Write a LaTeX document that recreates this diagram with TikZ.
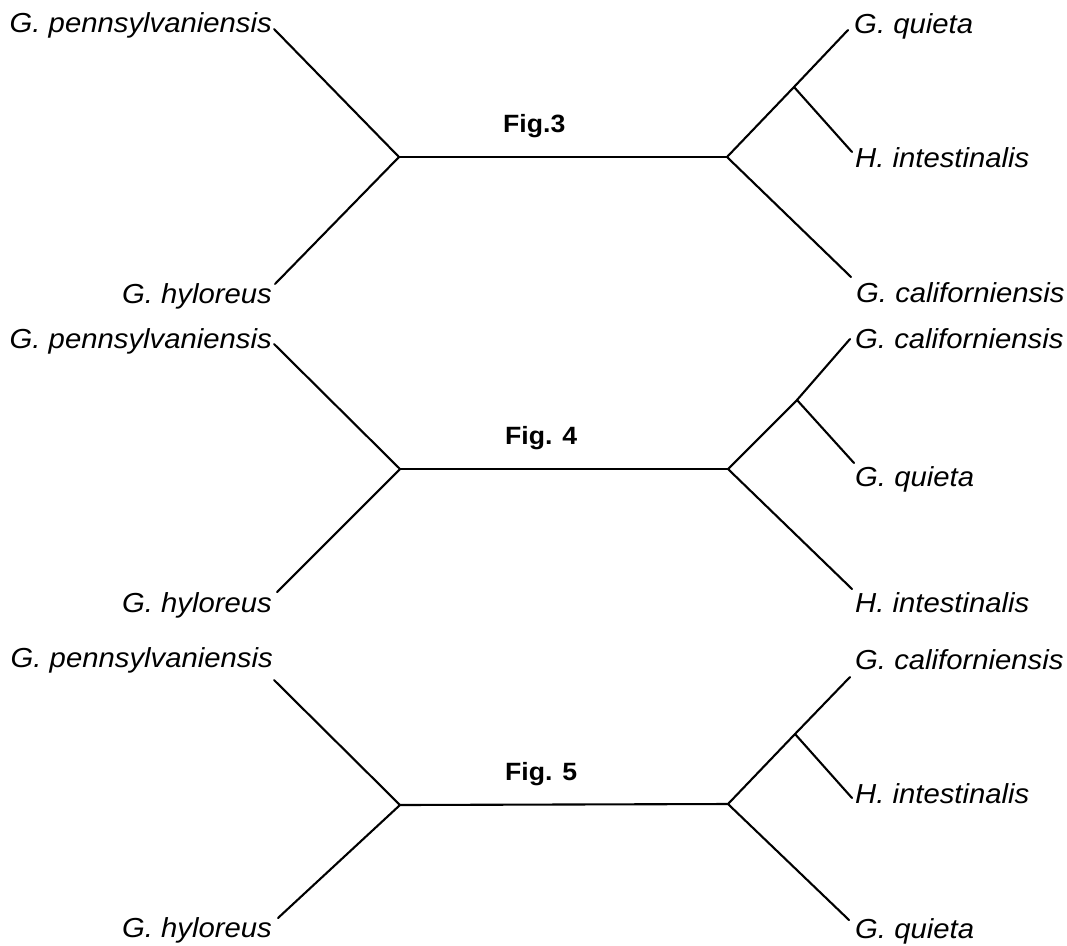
\documentclass[tikz,border=0pt]{standalone}
\usepackage{fontspec}
\setmainfont{Liberation Sans}
\begin{document}
\begin{tikzpicture}[x=1pt,y=-1pt,
  branch/.style={line width=2.1pt,line cap=round,line join=miter},
  taxon/.style={inner sep=0pt,font=\fontsize{27.5}{30}\selectfont\itshape},
  figlabel/.style={inner sep=0pt,anchor=base west,font=\fontsize{25}{28}\selectfont\bfseries}]
\useasboundingbox (0,0) rectangle (1067,945);
\newcommand\stretchtxt[1]{\scalebox{1.065}[1]{#1}}
% ---------- Fig. 3 ----------
\coordinate (L3) at (399,157);
\coordinate (R3) at (727,157);
\coordinate (J3) at (794,87);
\coordinate (tpen3) at (274,29);
\coordinate (thyl3) at (275,284);
\coordinate (tqui3) at (848,30);
\coordinate (tint3) at (852,152);
\coordinate (tcal3) at (851,277);
\node[taxon,anchor=base east] (pen3) at (272,32) {\stretchtxt{G. pennsylvaniensis}};
\node[taxon,anchor=base east] (hyl3) at (272,303) {\stretchtxt{G. hyloreus}};
\node[taxon,anchor=base west] (qui3) at (854,33) {\stretchtxt{G. quieta}};
\node[taxon,anchor=base west] (int3) at (855,167) {\stretchtxt{H. intestinalis}};
\node[taxon,anchor=base west] (cal3) at (856,302) {\stretchtxt{G. californiensis}};
\node[figlabel] (fig3) at (503,132) {\stretchtxt{Fig.3}};
\draw[branch] (tpen3) -- (L3) -- (thyl3);
\draw[branch] (L3) -- (R3);
\draw[branch] (R3) -- (J3) -- (tqui3);
\draw[branch] (J3) -- (tint3);
\draw[branch] (R3) -- (tcal3);
% ---------- Fig. 4 ----------
\coordinate (L4) at (400,469);
\coordinate (R4) at (728,469);
\coordinate (J4) at (797,400);
\coordinate (tpen4) at (274,344);
\coordinate (thyl4) at (277,592);
\coordinate (tcal4) at (850,339);
\coordinate (tqui4) at (854,463);
\coordinate (tint4) at (852,589);
\node[taxon,anchor=base east] (pen4) at (272,348) {\stretchtxt{G. pennsylvaniensis}};
\node[taxon,anchor=base east] (hyl4) at (272,612) {\stretchtxt{G. hyloreus}};
\node[taxon,anchor=base west] (cal4) at (855,348) {\stretchtxt{G. californiensis}};
\node[taxon,anchor=base west] (qui4) at (855,486) {\stretchtxt{G. quieta}};
\node[taxon,anchor=base west] (int4) at (855,612) {\stretchtxt{H. intestinalis}};
\node[figlabel] (fig4) at (505,444) {\stretchtxt{Fig. 4}};
\draw[branch] (tpen4) -- (L4) -- (thyl4);
\draw[branch] (L4) -- (R4);
\draw[branch] (R4) -- (J4) -- (tcal4);
\draw[branch] (J4) -- (tqui4);
\draw[branch] (R4) -- (tint4);
% ---------- Fig. 5 ----------
\coordinate (L5) at (400,805);
\coordinate (R5) at (728,804);
\coordinate (J5) at (795,734);
\coordinate (tpen5) at (274,680);
\coordinate (thyl5) at (278,918);
\coordinate (tcal5) at (850,677);
\coordinate (tint5) at (852,798);
\coordinate (tqui5) at (849,920);
\node[taxon,anchor=base east] (pen5) at (273,667) {\stretchtxt{G. pennsylvaniensis}};
\node[taxon,anchor=base east] (hyl5) at (272,937) {\stretchtxt{G. hyloreus}};
\node[taxon,anchor=base west] (cal5) at (855,669) {\stretchtxt{G. californiensis}};
\node[taxon,anchor=base west] (int5) at (855,803) {\stretchtxt{H. intestinalis}};
\node[taxon,anchor=base west] (qui5) at (855,938) {\stretchtxt{G. quieta}};
\node[figlabel] (fig5) at (505,780) {\stretchtxt{Fig. 5}};
\draw[branch] (tpen5) -- (L5) -- (thyl5);
\draw[branch] (L5) -- (R5);
\draw[branch] (R5) -- (J5) -- (tcal5);
\draw[branch] (J5) -- (tint5);
\draw[branch] (R5) -- (tqui5);
\end{tikzpicture}
\end{document}
